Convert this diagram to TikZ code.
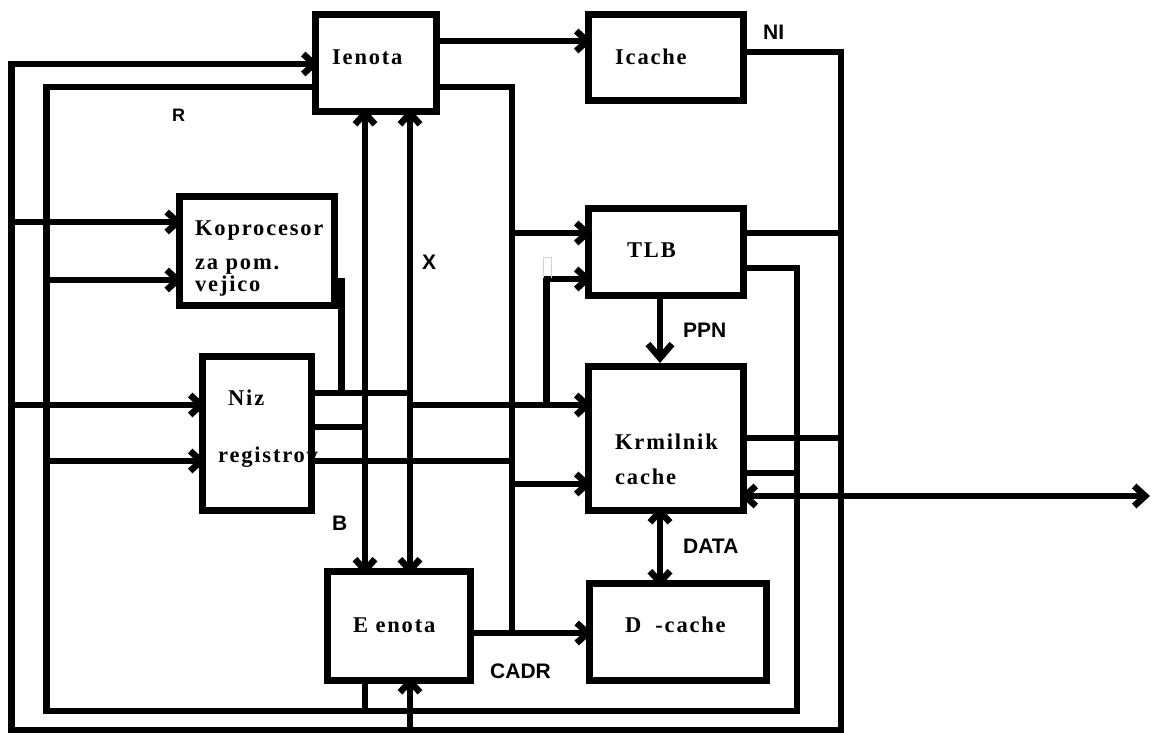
\documentclass[tikz,border=0pt]{standalone}
\usepackage{fontspec}
\newfontfamily\boxfont{Liberation Serif}[LetterSpace=8]
\newfontfamily\tagfont{Liberation Sans}
\usetikzlibrary{arrows.meta}
\pgfdeclarelayer{background}
\pgfsetlayers{background,main}

\begin{document}
\begin{tikzpicture}[x=1pt,y=-1pt,
  >={Straight Barb[length=11pt,width=20pt]},
  box/.style={draw, line width=7pt, fill=white, rectangle, inner sep=0pt, outer sep=0pt},
  wire/.style={line width=6.5pt, line join=miter},
  intobox/.style={shorten >=-3.5pt},
  frombox/.style={shorten <=-3.5pt},
  btext/.style={anchor=base west, inner sep=0pt, font=\boxfont\bfseries\fontsize{22.5}{24}\selectfont},
  ltext/.style={anchor=base west, inner sep=0pt, font=\tagfont\bfseries\fontsize{21}{24}\selectfont}]

\useasboundingbox (0,0) rectangle (1152,733);

% functional units
\node[box, minimum width=121pt,   minimum height=97pt]    (ienota) at (376,63.5)    {};
\node[box, minimum width=155pt,   minimum height=86pt]    (icache) at (666,58)      {};
\node[box, minimum width=155.5pt, minimum height=108.5pt] (kopro)  at (256.75,250.75) {};
\node[box, minimum width=109pt,   minimum height=154pt]   (niz)    at (257,433)     {};
\node[box, minimum width=155pt,   minimum height=86.5pt]  (tlb)    at (666,251.75)  {};
\node[box, minimum width=155pt,   minimum height=143.5pt] (krm)    at (666,438.25)  {};
\node[box, minimum width=142.5pt, minimum height=108.5pt] (eenota) at (398.75,625.75) {};
\node[box, minimum width=177.5pt, minimum height=96.5pt]  (dcache) at (677.75,631.75) {};

% unit captions
\node[btext] (ienota-t) at (332,65)  {Ienota};
\node[btext] (icache-t) at (615,65)  {Icache};
\node[btext] (kopro-t1) at (195,236) {Koprocesor};
\node[btext] (kopro-t2) at (195,269) {za pom.};
\node[btext] (kopro-t3) at (195,291) {vejico};
\node[btext] (niz-t1)   at (228,405) {Niz};
\node[btext] (niz-t2)   at (218,462) {registrov};
\node[btext] (tlb-t)    at (627,257) {TLB};
\node[btext] (krm-t1)   at (615,449) {Krmilnik};
\node[btext] (krm-t2)   at (615,484) {cache};
\node[btext] (eenota-t) at (353,632) {E enota};
\node[btext] (dcache-t) at (625,632) {D\hspace{14pt}-cache};

% bus labels
\node[ltext, font=\tagfont\bfseries\fontsize{18}{20}\selectfont] (lbl-r) at (172,122) {R};
\node[ltext] (lbl-ni)   at (763,40)  {NI};
\node[ltext] (lbl-x)    at (422,269) {X};
\node[ltext] (lbl-ppn)  at (683,337) {PPN};
\node[ltext] (lbl-data) at (683,553) {DATA};
\node[ltext] (lbl-cadr) at (490,678) {CADR};
\node[ltext] (lbl-b)    at (332,530) {B};

\coordinate (busend) at (1150,496);

\begin{pgfonlayer}{background}
% outer ring: Icache (NI) back to the I unit
\draw[wire,->,intobox] (icache.east |- 0,52) -- (841,52) -- (841,730) -- (11.5,730) -- (11.5,64) -- (ienota.west |- 0,64);
% inner ring: I unit round to the TLB
\draw[wire] (ienota.west |- 0,87) -- (46.5,87) -- (46.5,711) -- (797,711) -- (797,268) -- (tlb.east |- 0,268);
% I unit to Icache
\draw[wire,->,intobox] (ienota.east |- 0,41) -- (icache.west |- 0,41);
% address bus from the I unit
\draw[wire] (ienota.east |- 0,87) -- (512,87) -- (512,633);
\draw[wire,->,intobox] (eenota.east |- 0,633) -- (dcache.west |- 0,633);
\draw[wire,->,intobox] (512,233) -- (tlb.west |- 0,233);
\draw[wire,->,intobox] (512,484) -- (krm.west |- 0,484);
% X and B buses between the I and E units
\draw[wire,<->,intobox,frombox] (ienota.south -| 365,0) -- (eenota.north -| 365,0);
\draw[wire,<->,intobox,frombox] (ienota.south -| 410,0) -- (eenota.north -| 410,0);
\draw[wire] (eenota.south -| 365,0) -- (365,711);
\draw[wire,->,intobox] (410,730) -- (eenota.south -| 410,0);
% coprocessor
\draw[wire,->,intobox] (11.5,222) -- (kopro.west |- 0,222);
\draw[wire,->,intobox] (46.5,280) -- (kopro.west |- 0,280);
\draw[wire] (kopro.east |- 0,281) -- (341.5,281) -- (341.5,393);
% register file
\draw[wire] (niz.east |- 0,393) -- (410,393);
\draw[wire,->,intobox] (11.5,405) -- (niz.west |- 0,405);
\draw[wire,->,intobox] (410,405) -- (krm.west |- 0,405);
\draw[wire,->,intobox] (546.5,405) -- (546.5,279) -- (tlb.west |- 0,279);
\draw[wire] (niz.east |- 0,427) -- (365,427);
\draw[wire,->,intobox] (46.5,461) -- (niz.west |- 0,461);
\draw[wire] (niz.east |- 0,461) -- (512,461);
% TLB and cache controller
\draw[wire] (tlb.east |- 0,233) -- (841,233);
\draw[wire,->,shorten >=3.5pt,>={Straight Barb[length=14pt,width=24pt]}] (tlb.south -| 660,0) -- (krm.north -| 660,0);
\draw[wire,<->,intobox,frombox] (krm.south -| 660,0) -- (dcache.north -| 660,0);
\draw[wire] (krm.east |- 0,438) -- (841,438);
\draw[wire] (krm.east |- 0,473) -- (797,473);
\draw[wire,<->,frombox] (krm.east |- 0,496) -- (busend);
% small grey mark above the TLB feed
\draw[gray!35, line width=0.8pt] (543,278) -- (543,257.5) -- (551,257.5) -- (551,278);
\end{pgfonlayer}
\end{tikzpicture}
\end{document}
